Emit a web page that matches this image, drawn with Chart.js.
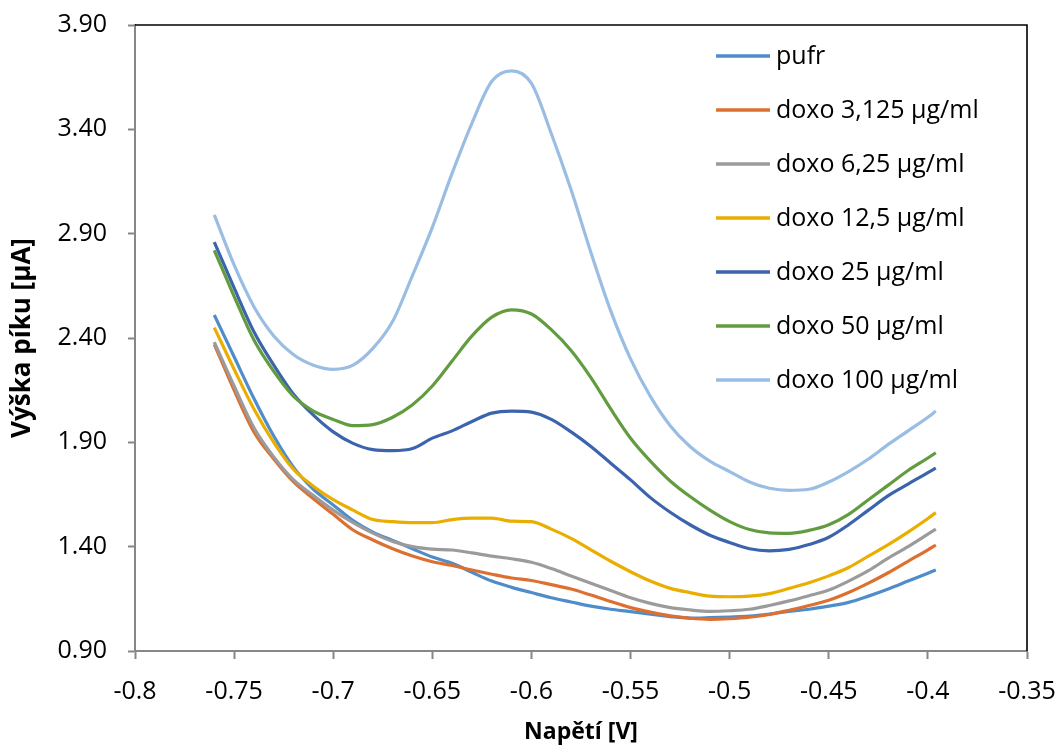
<!DOCTYPE html>
<html>
<head>
<meta charset="utf-8">
<script src="https://cdn.jsdelivr.net/npm/chart.js@4.4.1/dist/chart.umd.min.js"></script>
<style>
body{margin:0;background:#fff;}
#wrap{width:1058px;height:746px;}
</style>
</head>
<body>
<div id="wrap"><canvas id="chart" width="1058" height="746"></canvas></div>
<script>
'use strict';

// voltage [V]
let voltages=[-0.76,-0.75,-0.74,-0.73,-0.72,-0.71,-0.70,-0.69,-0.68,-0.67,-0.66,-0.65,-0.64,-0.63,-0.62,-0.61,-0.60,-0.59,-0.58,-0.57,
    -0.56,-0.55,-0.54,-0.53,-0.52,-0.51,-0.50,-0.49,-0.48,-0.47,-0.46,-0.45,-0.44,-0.43,-0.42,-0.41,-0.40,-0.396];

let seriesNames=['pufr','doxo 3,125 µg/ml','doxo 6,25 µg/ml','doxo 12,5 µg/ml','doxo 25 µg/ml','doxo 50 µg/ml','doxo 100 µg/ml'];

let pufr=[2.51,2.31,2.11,1.93,1.78,1.675,1.60,1.525,1.47,1.43,1.39,1.35,1.32,1.277,1.235,1.205,1.18,1.155,1.135,1.115,
    1.10,1.089,1.076,1.065,1.058,1.06,1.063,1.067,1.077,1.09,1.10,1.115,1.133,1.163,1.197,1.235,1.273,1.288];
let doxo3=[2.37,2.15,1.95,1.82,1.71,1.63,1.555,1.48,1.432,1.39,1.355,1.328,1.31,1.288,1.268,1.25,1.238,1.218,1.197,1.168,
    1.137,1.108,1.086,1.068,1.057,1.052,1.055,1.062,1.075,1.095,1.118,1.143,1.18,1.225,1.275,1.33,1.385,1.408];
let doxo6=[2.38,2.17,1.97,1.83,1.72,1.645,1.575,1.515,1.465,1.425,1.40,1.388,1.384,1.37,1.355,1.342,1.325,1.295,1.26,1.225,
    1.19,1.155,1.128,1.108,1.097,1.09,1.093,1.10,1.118,1.14,1.165,1.192,1.235,1.285,1.345,1.40,1.46,1.484];
let doxo12=[2.45,2.25,2.06,1.90,1.77,1.69,1.625,1.575,1.53,1.52,1.515,1.515,1.53,1.537,1.537,1.522,1.52,1.484,1.44,1.385,
    1.33,1.28,1.235,1.20,1.18,1.163,1.16,1.163,1.175,1.20,1.227,1.26,1.30,1.355,1.41,1.47,1.535,1.563];
let doxo25=[2.86,2.64,2.43,2.27,2.13,2.03,1.95,1.895,1.865,1.86,1.87,1.92,1.955,2.00,2.04,2.05,2.045,2.01,1.95,1.88,
    1.80,1.72,1.635,1.565,1.505,1.455,1.42,1.39,1.38,1.387,1.41,1.445,1.505,1.575,1.645,1.70,1.755,1.776];
let doxo50=[2.82,2.60,2.39,2.24,2.12,2.05,2.01,1.98,1.985,2.02,2.08,2.17,2.29,2.41,2.50,2.535,2.515,2.44,2.34,2.21,
    2.06,1.92,1.81,1.715,1.64,1.575,1.52,1.482,1.466,1.464,1.478,1.505,1.555,1.625,1.695,1.765,1.825,1.85];
let doxo100=[2.99,2.75,2.55,2.41,2.32,2.27,2.25,2.27,2.35,2.48,2.70,2.93,3.19,3.43,3.63,3.68,3.62,3.38,3.11,2.81,
    2.53,2.30,2.12,1.98,1.88,1.81,1.76,1.71,1.68,1.67,1.675,1.71,1.76,1.82,1.89,1.955,2.02,2.05];

let allSeries=[pufr,doxo3,doxo6,doxo12,doxo25,doxo50,doxo100];
let colors=['#4f8dca','#dd7030','#9b9b9b','#e9ae00','#3b64ad','#629c3f','#9abde4'];

let FONT='"Open Sans"';
let AXIS_GREY='#878787';

// legend drawn inside the plot, like the original
let plotLegend={
    id:'plotLegend',
    afterDraw(chart){
        let ctx=chart.ctx;
        ctx.save();
        ctx.font='25px '+FONT;
        ctx.textBaseline='middle';
        ctx.textAlign='left';
        chart.data.datasets.forEach(function(ds,i){
            let y=56+i*54;
            ctx.strokeStyle=ds.borderColor;
            ctx.lineWidth=3.5;
            ctx.beginPath();
            ctx.moveTo(716,y);
            ctx.lineTo(770,y);
            ctx.stroke();
            ctx.fillStyle='#000';
            ctx.fillText(ds.label,776,y+1);
        });
        ctx.restore();
    }
};

// black top and right edges of the plot area
let plotFrame={
    id:'plotFrame',
    afterDatasetsDraw(chart){
        let a=chart.chartArea;
        let ctx=chart.ctx;
        ctx.save();
        ctx.strokeStyle='#000';
        ctx.lineWidth=1.6;
        ctx.beginPath();
        ctx.moveTo(a.left,a.top);
        ctx.lineTo(a.right,a.top);
        ctx.lineTo(a.right,a.bottom);
        ctx.stroke();
        ctx.restore();
    }
};

function renderChart(){
    let datasets=[];
    for(let i=0;i<allSeries.length;i++){
        let pts=[];
        for(let j=0;j<voltages.length;j++){
            pts.push({x:voltages[j],y:allSeries[i][j]});
        }
        datasets.push({
            label:seriesNames[i],
            data:pts,
            borderColor:colors[i],
            backgroundColor:colors[i],
            borderWidth:3.2,
            pointRadius:0,
            cubicInterpolationMode:'monotone',
            fill:false,
            order:-i
        });
    }

    Chart.defaults.font.family=FONT;
    Chart.defaults.color='#000';

    let chartObj={
        type:'line',
        data:{datasets:datasets},
        plugins:[plotFrame,plotLegend],
        options:{
            responsive:false,
            animation:false,
            layout:{padding:{top:25,right:31,left:0,bottom:0}},
            plugins:{
                legend:{display:false},
                tooltip:{enabled:false}
            },
            scales:{
                x:{
                    type:'linear',
                    min:-0.8,
                    max:-0.35,
                    ticks:{
                        stepSize:0.05,
                        autoSkip:false,
                        maxRotation:0,
                        padding:18,
                        color:'#000',
                        font:{size:25},
                        callback:v=>String(Number(v.toFixed(2)))
                    },
                    grid:{drawOnChartArea:false,tickLength:8,tickColor:AXIS_GREY,tickWidth:2},
                    border:{color:AXIS_GREY,width:2},
                    title:{
                        display:true,
                        text:'Napětí [V]',
                        color:'#000',
                        font:{size:23,weight:'bold'},
                        padding:{top:0,bottom:0}
                    },
                    afterFit(s){
                        s.height=95;
                        s.paddingLeft=0;
                        s.paddingRight=0;
                    }
                },
                y:{
                    type:'linear',
                    min:0.9,
                    max:3.9,
                    ticks:{
                        stepSize:0.5,
                        padding:21,
                        color:'#000',
                        font:{size:25},
                        callback:v=>v.toFixed(2)
                    },
                    grid:{drawOnChartArea:false,tickLength:7,tickColor:AXIS_GREY,tickWidth:2},
                    border:{color:AXIS_GREY,width:2},
                    title:{
                        display:true,
                        text:'Výška píku [µA]',
                        color:'#000',
                        font:{size:26,weight:'bold'},
                        padding:{top:7,bottom:0}
                    },
                    afterFit(s){
                        s.width=135;
                        s.paddingTop=0;
                        s.paddingBottom=0;
                    }
                }
            }
        }
    };
    new Chart(document.getElementById('chart'),chartObj);
}

renderChart();
</script>
</body>
</html>
